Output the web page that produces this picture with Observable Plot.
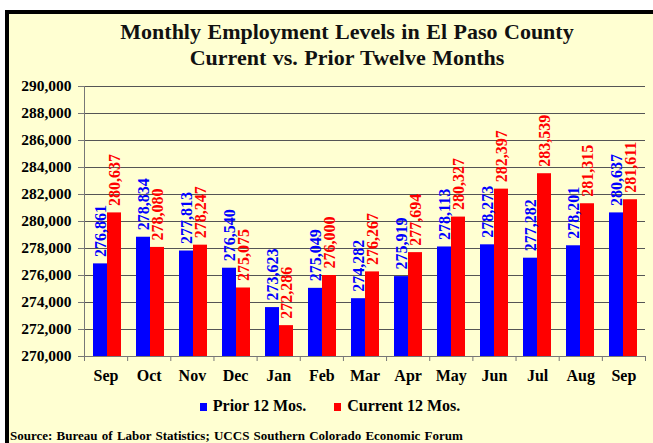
<!DOCTYPE html>
<html><head><meta charset="utf-8">
<script src="https://cdn.jsdelivr.net/npm/d3@7"></script>
<script src="https://cdn.jsdelivr.net/npm/@observablehq/plot@0.6"></script>
<style>
html,body{margin:0;padding:0;background:#fff;}
body{width:653px;height:443px;overflow:hidden;position:relative;font-family:'Liberation Serif',serif;}
#frame{position:absolute;left:5px;top:10px;width:680px;height:460px;border:4px solid #000;background:#FFFFD2;box-sizing:border-box;}
.title{position:absolute;left:0;width:694px;text-align:center;font-family:'Liberation Serif',serif;font-weight:bold;font-size:22px;color:#111;word-spacing:1px;line-height:1;}
.layer{position:absolute;left:0;top:70px;}
.layer svg{overflow:visible;}
#legend{position:absolute;top:397px;left:0;width:660px;text-align:center;font-family:'Liberation Serif',serif;font-weight:bold;font-size:16px;color:#000;}
#legend span.sw{display:inline-block;width:7px;height:8px;margin-right:6px;vertical-align:0px;}
#legend span.item{margin:0 14px;}
#source{position:absolute;left:10px;top:428px;font-family:'Liberation Serif',serif;font-weight:bold;font-size:13px;word-spacing:1px;color:#000;white-space:nowrap;}
</style>
</head><body>
<div id="frame"></div>
<div class="title" style="top:21px">Monthly Employment Levels in El Paso County</div>
<div class="title" style="top:47px">Current vs. Prior Twelve Months</div>
<div class="layer" id="bg"></div>
<div class="layer" id="fg"></div>
<div id="legend"></div>
<div id="source">Source: Bureau of Labor Statistics; UCCS Southern Colorado Economic Forum</div>
<script>
const months = ["Sep","Oct","Nov","Dec","Jan","Feb","Mar","Apr","May","Jun","Jul","Aug","Sep"];
const prior = [276861, 278834, 277813, 276540, 273623, 275049, 274282, 275919, 278113, 278273, 277282, 278201, 280637];
const current = [280637, 278080, 278247, 275075, 272286, 276000, 276267, 277694, 280327, 282397, 283539, 281315, 281611];
const seriesNames = ["Prior 12 Mos.", "Current 12 Mos."];
const seriesColors = ["#0000FF", "#FF0000"];
const yTicks = [270000, 272000, 274000, 276000, 278000, 280000, 282000, 284000, 286000, 288000, 290000];

const fmt = d3.format(",");
const rows = months.flatMap((m, i) => [
  {i, month: m, series: seriesNames[0], value: prior[i]},
  {i, month: m, series: seriesNames[1], value: current[i]}
]);
const yDomain = [yTicks[0], yTicks[yTicks.length - 1]];
const common = {width: 653, height: 320, marginLeft: 84, marginRight: 8, marginTop: 16, marginBottom: 34};
const font = {background: "transparent", fontFamily: "'Liberation Serif', serif", fontWeight: "bold", color: "#000"};

// background layer: grid, axes, month labels
const bg = Plot.plot({
  ...common,
  style: {...font, fontSize: "15px"},
  x: {type: "linear", domain: [0, months.length]},
  y: {domain: yDomain},
  marks: [
    Plot.gridY(yTicks, {stroke: "#555", strokeOpacity: 1}),
    Plot.axisY(yTicks, {tickSize: 6, tickPadding: 7, stroke: "#777", tickFormat: fmt, label: null, fontSize: 15.5}),
    Plot.ruleX([0], {stroke: "#777"}),
    Plot.ruleY([yDomain[0]], {stroke: "#777"}),
    Plot.axisX(d3.range(months.length + 1), {tickSize: 5, stroke: "#777", tickFormat: () => "", label: null}),
    Plot.axisX(months.map((m, i) => i + 0.5), {tickSize: 0, tickPadding: 13, fontSize: 16, tickFormat: v => months[Math.floor(v)], label: null})
  ]
});
document.getElementById("bg").appendChild(bg);

// foreground layer: grouped bars and value labels
const fg = Plot.plot({
  ...common,
  style: {...font, fontSize: "16px"},
  fx: {domain: d3.range(months.length), paddingInner: 0.33, paddingOuter: 0.165, axis: null, label: null},
  x: {domain: seriesNames, padding: 0, axis: null},
  y: {domain: yDomain, axis: null},
  color: {domain: seriesNames, range: seriesColors},
  marks: [
    Plot.barY(rows, {fx: "i", x: "series", y1: yDomain[0], y2: "value", fill: "series"}),
    Plot.text(rows, {fx: "i", x: "series", y: "value", text: d => fmt(d.value), rotate: -90, textAnchor: "start", dy: -7, fill: "series", fontSize: 16, fontWeight: "bold"})
  ]
});
document.getElementById("fg").appendChild(fg);

// legend
const lg = document.getElementById("legend");
seriesNames.forEach((s, k) => {
  const item = document.createElement("span");
  item.className = "item";
  const sw = document.createElement("span");
  sw.className = "sw";
  sw.style.background = seriesColors[k];
  item.appendChild(sw);
  item.appendChild(document.createTextNode(s));
  lg.appendChild(item);
});
</script>
</body></html>
